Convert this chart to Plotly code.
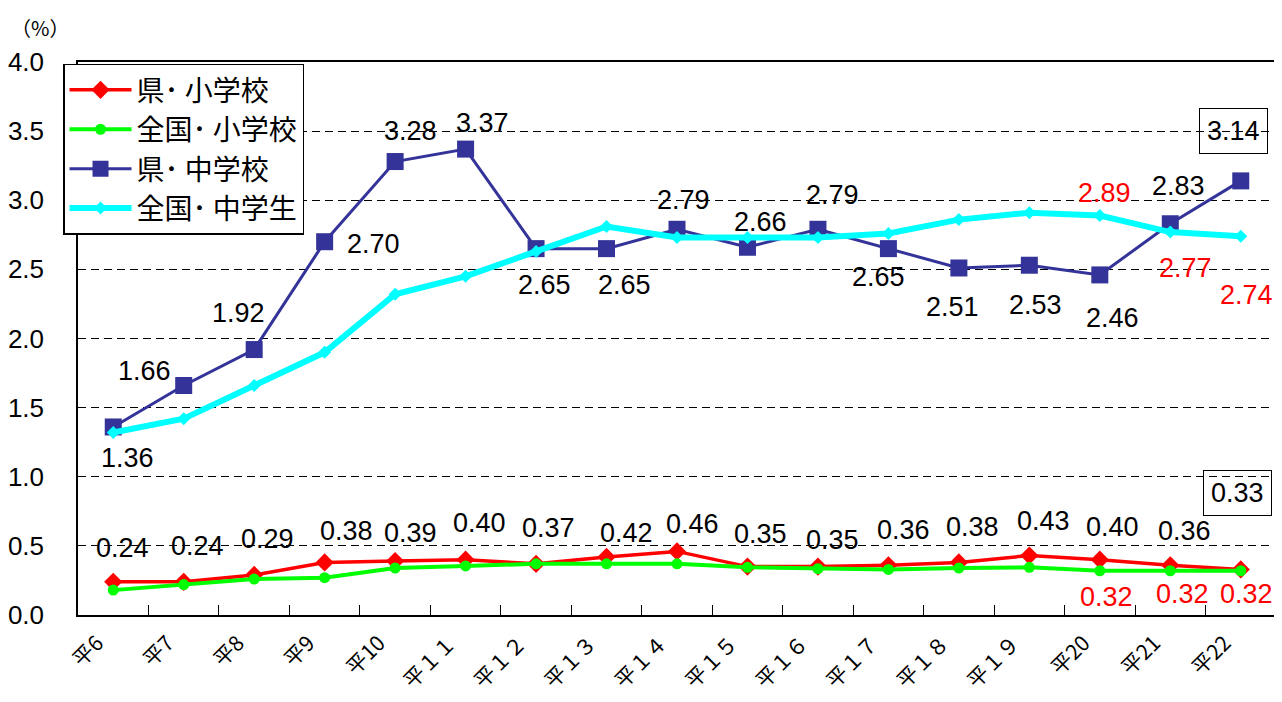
import plotly.graph_objects as go

categories = ["平6", "平7", "平8", "平9", "平10", "平１１", "平１２", "平１３", "平１４",
              "平１５", "平１６", "平１７", "平１８", "平１９", "平20", "平21", "平22"]

ken_sho = [0.24, 0.24, 0.29, 0.38, 0.39, 0.40, 0.37, 0.42, 0.46, 0.35, 0.35, 0.36, 0.38, 0.43, 0.40, 0.36, 0.33]
zen_sho = [0.18, 0.22, 0.26, 0.27, 0.34, 0.355, 0.37, 0.37, 0.37, 0.345, 0.335, 0.33, 0.34, 0.345, 0.32, 0.32, 0.32]
ken_chu = [1.36, 1.66, 1.92, 2.70, 3.28, 3.37, 2.65, 2.65, 2.79, 2.66, 2.79, 2.65, 2.51, 2.53, 2.46, 2.83, 3.14]
zen_chu = [1.32, 1.42, 1.66, 1.90, 2.32, 2.45, 2.63, 2.81, 2.73, 2.73, 2.73, 2.76, 2.86, 2.91, 2.89, 2.77, 2.74]

names = ["県･ 小学校", "全国･ 小学校", "県･ 中学校", "全国･ 中学生"]

# label offsets (pixels) – style only
ken_sho_off = [(9, 34), (14, 36), (13, 36), (22, 31), (15, 28), (14, 37), (12, 36), (20, 24), (15, 27),
               (13, 33), (15, 27), (15, 35), (14, 35), (14, 35), (13, 33), (14, 34), (-3, 76)]
ken_chu_off = [(14, -31), (-39, 15), (-16, 37), (49, -2), (15, 31), (17, 26), (8, -36), (18, -36), (6, 29),
               (13, 25), (15, 34), (-10, -28), (-6, -39), (6, -40), (13, -43), (8, 38), (-7, 50)]
zen_sho_idx = [14, 15, 16]
zen_sho_off = [(7, -26), (12, -23), (6, -23)]
zen_chu_idx = [14, 15, 16]
zen_chu_off = [(5, 22), (15, -36), (6, -59)]

fig = go.Figure()
fig.add_trace(go.Scatter(x=categories, y=ken_sho, name=names[0], mode="lines+markers",
                         line=dict(color="#FF0000", width=3.5),
                         marker=dict(symbol="diamond", size=14, color="#FF0000"),
                         legendgroup="a"))
fig.add_trace(go.Scatter(x=categories, y=zen_sho, name=names[1], mode="lines+markers",
                         line=dict(color="#00FF00", width=4),
                         marker=dict(symbol="circle", size=11, color="#00FF00"),
                         legendgroup="b"))
fig.add_trace(go.Scatter(x=categories, y=ken_chu, name=names[2], mode="lines+markers",
                         line=dict(color="#333399", width=3),
                         marker=dict(symbol="square", size=17, color="#333399"),
                         legendgroup="c"))
fig.add_trace(go.Scatter(x=categories, y=zen_chu, name=names[3], mode="lines+markers",
                         line=dict(color="#00FFFF", width=6),
                         marker=dict(symbol="diamond", size=10, color="#00FFFF"),
                         legendgroup="d"))

lab_font = dict(family="Liberation Sans, Arial", size=27, color="black")
red_font = dict(family="Liberation Sans, Arial", size=27, color="#FF0000")

annotations = []
last = len(categories) - 1
for i, v in enumerate(ken_sho):
    dx, dy = ken_sho_off[i]
    a = dict(x=categories[i], y=v, text=f"{v:.2f}", showarrow=False, xshift=dx, yshift=dy, font=lab_font)
    if i == last:
        a.update(bordercolor="black", borderwidth=1, borderpad=7, bgcolor="rgba(0,0,0,0)")
    annotations.append(a)
for i, v in enumerate(ken_chu):
    dx, dy = ken_chu_off[i]
    a = dict(x=categories[i], y=v, text=f"{v:.2f}", showarrow=False, xshift=dx, yshift=dy, font=lab_font)
    if i == last:
        a.update(bordercolor="black", borderwidth=1, borderpad=7, bgcolor="rgba(0,0,0,0)")
    annotations.append(a)
for k, i in enumerate(zen_sho_idx):
    dx, dy = zen_sho_off[k]
    annotations.append(dict(x=categories[i], y=zen_sho[i], text=f"{zen_sho[i]:.2f}", showarrow=False,
                            xshift=dx, yshift=dy, font=red_font))
for k, i in enumerate(zen_chu_idx):
    dx, dy = zen_chu_off[k]
    annotations.append(dict(x=categories[i], y=zen_chu[i], text=f"{zen_chu[i]:.2f}", showarrow=False,
                            xshift=dx, yshift=dy, font=red_font))

annotations.append(dict(xref="paper", yref="paper", x=-0.032, y=1.062, xanchor="center", yanchor="middle",
                        text="（%）", showarrow=False,
                        font=dict(family="Noto Sans CJK JP", size=20, color="black")))

# page body has an 8px margin: the figure is sized/offset to compensate
fig.update_layout(
    width=1274, height=694,
    margin=dict(l=70, r=6, t=54, b=87, autoexpand=False),
    plot_bgcolor="white", paper_bgcolor="white",
    showlegend=True,
    legend=dict(x=-0.0125, y=0.997, xanchor="left", yanchor="top",
                bgcolor="white", bordercolor="black", borderwidth=1.5,
                font=dict(family="Noto Sans CJK JP", size=28, color="black"),
                traceorder="grouped", tracegroupgap=0, itemwidth=62),
    annotations=annotations,
)
fig.update_xaxes(type="category", range=[-0.5, len(categories) - 0.5],
                 showline=True, linecolor="black", linewidth=1.5, mirror=True,
                 ticks="inside", tickson="boundaries", ticklen=10, tickcolor="black", tickwidth=1,
                 tickangle=-45, showgrid=False, automargin=False, ticklabelstandoff=6,
                 ticklabelshift=-16,
                 tickfont=dict(family="Noto Sans CJK JP", size=21, color="black"))
fig.update_yaxes(range=[0, 4], dtick=0.5, tickformat=".1f", showline=True, linecolor="black", linewidth=1.5,
                 mirror=True, ticks="", showgrid=True, gridcolor="black", gridwidth=1, griddash="8px,5px",
                 zeroline=False, ticklabelstandoff=27, automargin=False,
                 tickfont=dict(family="Liberation Sans, Arial", size=26, color="black"))

fig.write_html("out.html")
